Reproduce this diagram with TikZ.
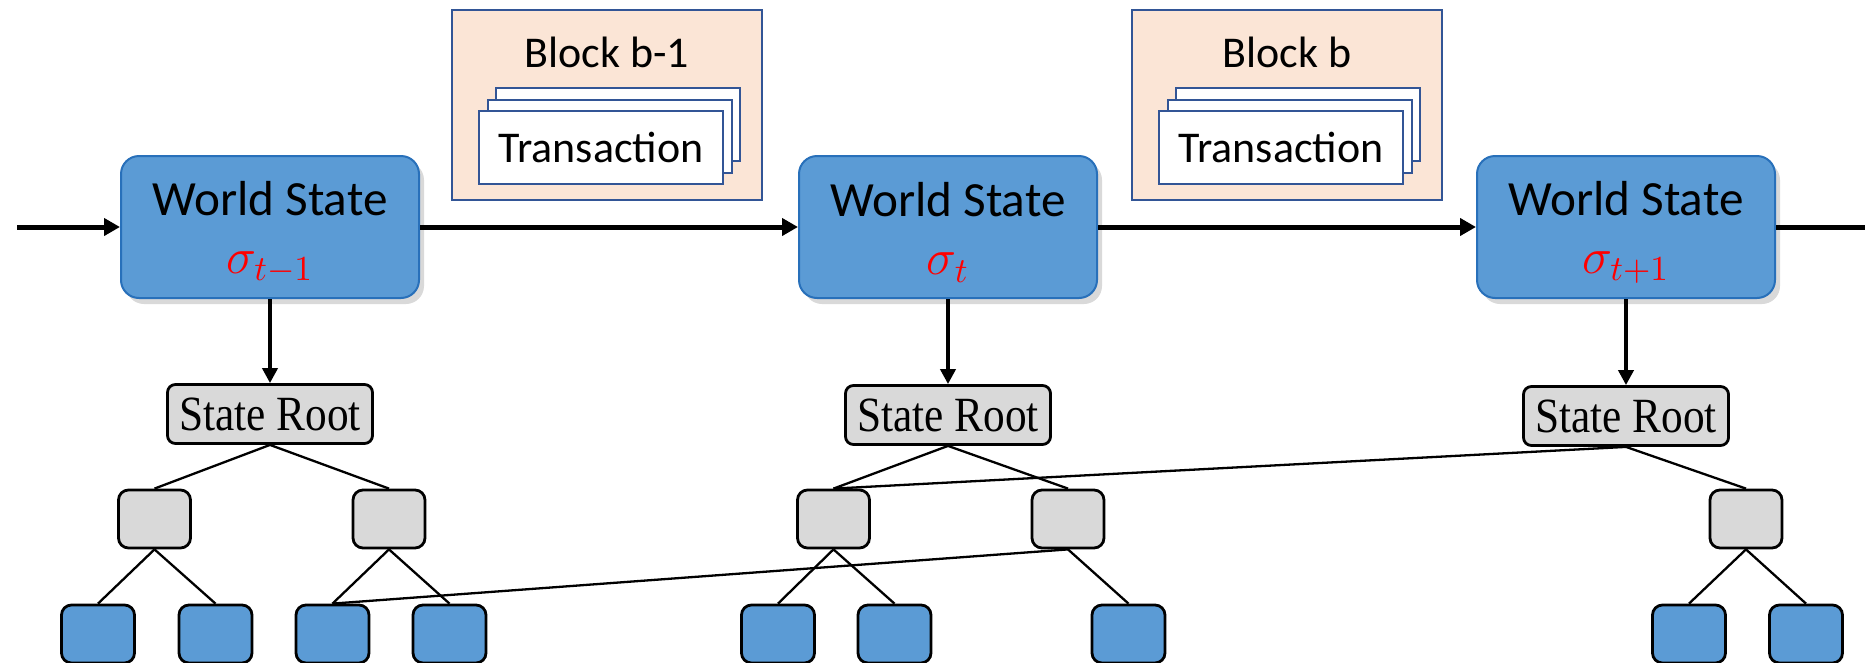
\documentclass[tikz,border=0pt]{standalone}
\usepackage{fontspec}
\setmainfont{Carlito}
\newfontfamily\rootfont[FakeStretch=0.88]{Liberation Serif}
\usetikzlibrary{arrows.meta,calc,shadows}
\definecolor{wsblue}{RGB}{91,155,213}
\definecolor{wsedge}{RGB}{40,112,186}
\definecolor{nodegrey}{RGB}{217,217,217}
\definecolor{peach}{RGB}{251,229,214}
\definecolor{blockedge}{RGB}{50,85,150}

\begin{document}
\begin{tikzpicture}[x=0.1mm,y=-0.1mm,
	world/.style={draw=wsedge, fill=wsblue, line width=0.2mm, rounded corners=1.8mm,
		minimum width=29.8mm, minimum height=14.2mm, align=center,
		font=\fontsize{14}{16.5}\selectfont,
		drop shadow={opacity=.3, shadow xshift=.5mm, shadow yshift=-.6mm}},
	blockbox/.style={draw=blockedge, fill=peach, line width=0.2mm, minimum width=31mm, minimum height=19mm},
	card/.style={draw=blockedge, fill=white, line width=0.2mm, minimum width=24.4mm, minimum height=7.3mm,
		font=\fontsize{12.5}{14}\selectfont},
	root/.style={draw, fill=nodegrey, line width=0.28mm, rounded corners=0.8mm,
		minimum width=20.4mm, minimum height=5.9mm, font=\rootfont\fontsize{14}{16}\selectfont},
	inner/.style={draw, fill=nodegrey, line width=0.28mm, rounded corners=1mm, minimum width=7.2mm, minimum height=5.8mm},
	leaf/.style={draw, fill=wsblue, line width=0.28mm, rounded corners=1mm, minimum width=7.3mm, minimum height=5.8mm},
	flow/.style={line width=0.5mm, -{Triangle[length=1.6mm,width=1.7mm]}},
	down/.style={line width=0.4mm, -{Triangle[length=1.5mm,width=1.5mm]}},
	edge/.style={line width=0.23mm}]
	\useasboundingbox (0,0) rectangle (1865,663);
	% world states
	\node[world] (ws1) at (270,227) {\rule{0pt}{12.8pt}World State\\{\color{red}$\sigma_{t-1}$}};
	\node[world] (ws2) at (948,227) {\rule{0pt}{12.8pt}World State\\{\color{red}$\sigma_{t}$}};
	\node[world] (ws3) at (1626,227) {\rule{0pt}{12.8pt}World State\\{\color{red}$\sigma_{t+1}$}};
	\coordinate (in) at (17,227);
	\coordinate (out) at (1881,227);
	\draw[flow] (in)--(ws1.west);
	\draw[flow] (ws1.east)--(ws2.west);
	\draw[flow] (ws2.east)--(ws3.west);
	\draw[flow] (ws3.east)--(out);
	% blocks
	\foreach \b/\x/\t in {blk1/607/Block b-1, blk2/1287/Block b} {
		\node[blockbox] (\b) at (\x,105) {};
		\node[font=\fontsize{12.5}{14}\selectfont] (\b t) at ($(\b.north)+(0,43)$) {\t};
		\node[card] (\b c3) at ($(\b.center)+(11,19)$) {};
		\node[card] (\b c2) at ($(\b.center)+(2.5,31)$) {};
		\node[card] (\b c1) at ($(\b.center)+(-6,42)$) {Transaction};
	}
	% state roots
	\node[root] (sr1) at (270,414) {State Root};
	\node[root] (sr2) at (948,415) {State Root};
	\node[root] (sr3) at (1626,416) {State Root};
	\foreach \i in {1,2,3} \draw[down] (ws\i.south)--(sr\i.north);
	% inner nodes
	\foreach \n/\x in {m1/154.5, m2/389, m3/833.5, m4/1068, m5/1746}
		\node[inner] (\n) at (\x,519) {};
	% leaves
	\foreach \n/\x in {l1/98, l2/215.5, l3/332.5, l4/449.5, l5/778, l6/894.5, l7/1128.5, l8/1689, l9/1806}
		\node[leaf] (\n) at (\x,634) {};
	\foreach \a/\b in {sr1/m1, sr1/m2, sr2/m3, sr2/m4, sr3/m3, sr3/m5, m1/l1, m1/l2, m2/l3, m2/l4,
		m3/l5, m3/l6, m4/l3, m4/l7, m5/l8, m5/l9}
		\draw[edge] (\a.south)--(\b.north);
\end{tikzpicture}
\end{document}
